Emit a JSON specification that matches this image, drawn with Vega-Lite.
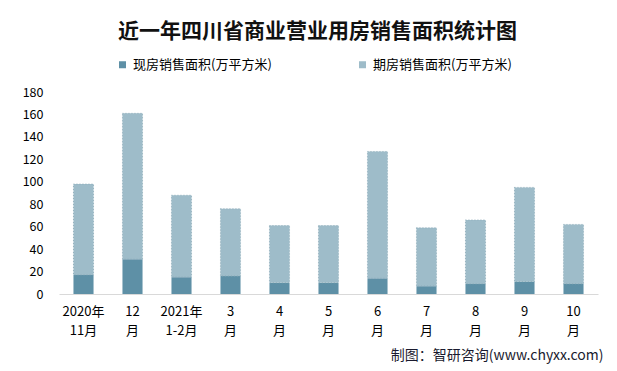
{
  "$schema": "https://vega.github.io/schema/vega-lite/v6.json",
  "autosize": "none",
  "width": 539,
  "height": 202,
  "padding": {"left": 59, "top": 92, "right": 19, "bottom": 77},
  "background": "white",
  "config": {
    "font": "Noto Sans CJK SC",
    "view": {"stroke": null}
  },
  "title": {
    "text": "近一年四川省商业营业用房销售面积统计图",
    "fontSize": 21,
    "fontWeight": "bold",
    "color": "#111111",
    "anchor": "middle",
    "dx": -11,
    "offset": 16
  },
  "data": {
    "values": [
      {"month": "2020年|11月", "type": "现房销售面积(万平方米)", "value": 17},
      {"month": "2020年|11月", "type": "期房销售面积(万平方米)", "value": 81},
      {"month": "12|月", "type": "现房销售面积(万平方米)", "value": 31},
      {"month": "12|月", "type": "期房销售面积(万平方米)", "value": 130},
      {"month": "2021年|1-2月", "type": "现房销售面积(万平方米)", "value": 15},
      {"month": "2021年|1-2月", "type": "期房销售面积(万平方米)", "value": 73},
      {"month": "3|月", "type": "现房销售面积(万平方米)", "value": 16},
      {"month": "3|月", "type": "期房销售面积(万平方米)", "value": 60},
      {"month": "4|月", "type": "现房销售面积(万平方米)", "value": 10},
      {"month": "4|月", "type": "期房销售面积(万平方米)", "value": 51},
      {"month": "5|月", "type": "现房销售面积(万平方米)", "value": 10},
      {"month": "5|月", "type": "期房销售面积(万平方米)", "value": 51},
      {"month": "6|月", "type": "现房销售面积(万平方米)", "value": 14},
      {"month": "6|月", "type": "期房销售面积(万平方米)", "value": 113},
      {"month": "7|月", "type": "现房销售面积(万平方米)", "value": 7},
      {"month": "7|月", "type": "期房销售面积(万平方米)", "value": 52},
      {"month": "8|月", "type": "现房销售面积(万平方米)", "value": 9},
      {"month": "8|月", "type": "期房销售面积(万平方米)", "value": 57},
      {"month": "9|月", "type": "现房销售面积(万平方米)", "value": 11},
      {"month": "9|月", "type": "期房销售面积(万平方米)", "value": 84},
      {"month": "10|月", "type": "现房销售面积(万平方米)", "value": 9},
      {"month": "10|月", "type": "期房销售面积(万平方米)", "value": 53}
    ]
  },
  "mark": {"type": "bar", "strokeDash": [1, 2], "strokeWidth": 0.8},
  "encoding": {
    "x": {
      "field": "month",
      "type": "nominal",
      "sort": null,
      "scale": {"paddingInner": 0.59, "paddingOuter": 0.295},
      "axis": {
        "title": "制图：智研咨询(www.chyxx.com)",
        "titleFontSize": 14,
        "titleFontWeight": "normal",
        "titleColor": "#1a1a2e",
        "titleAlign": "right",
        "titleBaseline": "middle",
        "titleX": 544,
        "titleY": 61,
        "labelAngle": 0,
        "labelExpr": "split(datum.value, '|')",
        "labelLineHeight": 19,
        "labelFontSize": 13,
        "labelColor": "#000000",
        "labelPadding": 11,
        "ticks": false,
        "domainColor": "#d9d9d9",
        "domainWidth": 1
      }
    },
    "y": {
      "field": "value",
      "type": "quantitative",
      "stack": "zero",
      "scale": {"domain": [0, 180], "nice": false},
      "axis": {
        "title": null,
        "values": [0, 20, 40, 60, 80, 100, 120, 140, 160, 180],
        "grid": false,
        "domain": false,
        "ticks": false,
        "labelFontSize": 12.5,
        "labelColor": "#000000",
        "labelPadding": 16
      }
    },
    "color": {
      "field": "type",
      "type": "nominal",
      "scale": {
        "domain": ["现房销售面积(万平方米)", "期房销售面积(万平方米)"],
        "range": ["#5e90a6", "#9ebcc9"]
      },
      "legend": {
        "title": null,
        "orient": "none",
        "direction": "horizontal",
        "legendX": 57,
        "legendY": -34,
        "columns": 2,
        "columnPadding": 84,
        "symbolType": "square",
        "symbolSize": 49,
        "symbolStrokeWidth": 0,
        "labelFontSize": 13,
        "labelColor": "#000000",
        "labelOffset": 4
      }
    },
    "stroke": {
      "condition": {"test": "datum.type === '期房销售面积(万平方米)'", "value": "#86a6b4"},
      "value": null
    },
    "order": {"field": "type", "sort": "descending"}
  }
}
